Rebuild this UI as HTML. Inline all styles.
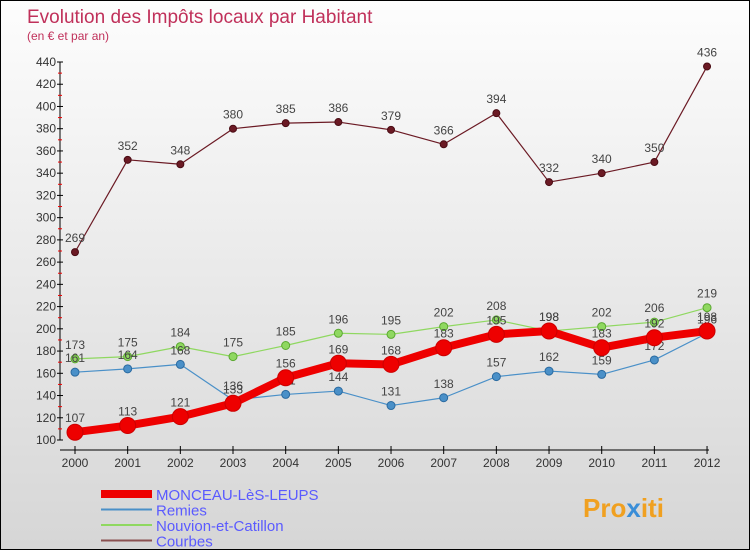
<!DOCTYPE html>
<html><head><meta charset="utf-8"><style>
body{margin:0;width:750px;height:550px;overflow:hidden;font-family:"Liberation Sans",sans-serif}
#wrap{position:relative;width:748px;height:548px;border:1px solid #000;background:linear-gradient(#fdfdfd,#d6d6d6)}
</style></head><body>
<div id="wrap">
<svg id="chart" width="748" height="548" style="position:absolute;left:0;top:0">
<text x="26" y="22" font-size="19" fill="#c0305a">Evolution des Impôts locaux par Habitant</text>
<text x="26" y="39" font-size="12" fill="#c0305a">(en € et par an)</text>
<g id="axes"></g><g id="series"></g><g id="legend"></g>
<text x="582" y="516" font-size="26" font-weight="bold" fill="#f0a020">Pro<tspan fill="#3a8ed8">x</tspan>iti</text>
</svg></div>
<script>
const years=[2000,2001,2002,2003,2004,2005,2006,2007,2008,2009,2010,2011,2012];
const monceau=[107,113,121,133,156,169,168,183,195,198,183,192,198];
const remies=[161,164,168,136,141,144,131,138,157,162,159,172,196];
const nouvion=[173,175,184,175,185,196,195,202,208,198,202,206,219];
const courbes=[269,352,348,380,385,386,379,366,394,332,340,350,436];
const yTicks=[100,120,140,160,180,200,220,240,260,280,300,320,340,360,380,400,420,440];
const NS="http://www.w3.org/2000/svg";
const xs=i=>74+i*52.67;
const ys=v=>439-(v-100)*(378/340);
function mk(t,a,p){const e=document.createElementNS(NS,t);for(const k in a)e.setAttribute(k,a[k]);p.appendChild(e);return e;}
const ax=document.getElementById('axes');
let l=mk('line',{x1:59,y1:ys(440),x2:59,y2:ys(100),stroke:'#000'},ax);


l=mk('line',{x1:59,y1:449,x2:708,y2:449,stroke:'#000'},ax);


yTicks.forEach(v=>{
  const y=ys(v);
  mk('line',{x1:56,y1:y,x2:62,y2:y,stroke:'#000'},ax);
  if(v<440)mk('line',{x1:57,y1:ys(v+10),x2:61,y2:ys(v+10),stroke:'#e00'},ax);
  const t=mk('text',{x:55,y:y+4,'font-size':12,fill:'#333','text-anchor':'end'},ax);t.textContent=v;
  
  
});
years.forEach((yr,i)=>{
  mk('line',{x1:xs(i),y1:445,x2:xs(i),y2:453,stroke:'#000'},ax);
  const t=mk('text',{x:xs(i),y:466,'font-size':12,fill:'#333','text-anchor':'middle'},ax);t.textContent=yr;
  
  
});
const sg=document.getElementById('series');
function series(data,color,w,r,name,stroke){
  const g=mk('g',{},sg);
  
  
  mk('polyline',{points:data.map((v,i)=>xs(i)+','+ys(v)).join(' '),fill:'none',stroke:color,'stroke-width':w,'stroke-linejoin':'round'},g);
  data.forEach((v,i)=>{
    const c=mk('circle',{cx:xs(i),cy:ys(v),r:r,fill:color,stroke:stroke,'stroke-width':1},g);
    
    
    const t=mk('text',{x:xs(i),y:ys(v)-10,'font-size':12,fill:'#444','text-anchor':'middle'},g);t.textContent=v;
    
    
  });
}
series(courbes,'#6b1a24',1.2,3.5,'courbes-series','#4a0c14');
series(nouvion,'#8fd860',1.2,4,'nouvion-series','#5aa830');
series(remies,'#4a90c8',1.2,4,'remies-series','#2a6aa0');
series(monceau,'#ee0000',8,8,'monceau-series','#cc0000');
const lg=document.getElementById('legend');
[['MONCEAU-LèS-LEUPS','#ee0000',8],['Remies','#4a90c8',2],['Nouvion-et-Catillon','#8fd860',2],['Courbes','#8a5050',2]].forEach((e,i)=>{
  const y=493+i*15.5;
  const g=mk('g',{},lg);
  
  
  mk('line',{x1:100,y1:y,x2:151,y2:y,stroke:e[1],'stroke-width':e[2]},g);
  const t=mk('text',{x:155,y:y+6,'font-size':15,fill:'#5a5aff'},g);t.textContent=e[0];
});
</script>
</body></html>
